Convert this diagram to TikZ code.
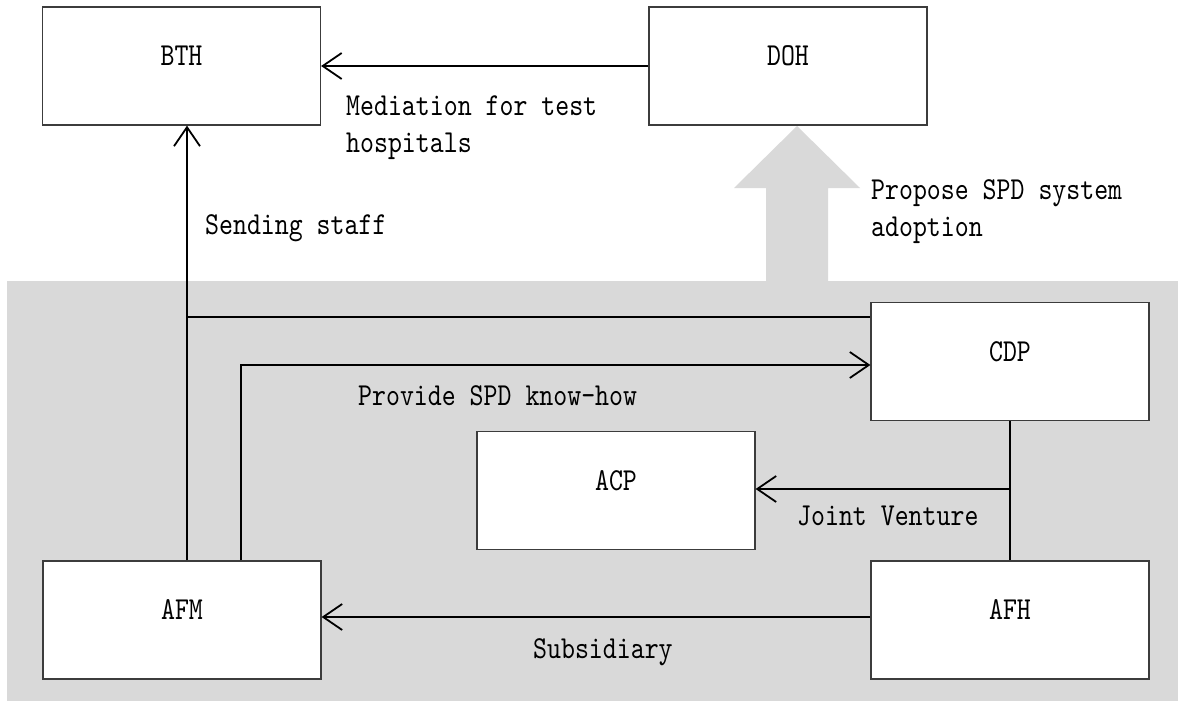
\documentclass[tikz,border=0pt]{standalone}
\usepackage{fontspec}
\newfontfamily\lblfont{lmmono10-regular}[Extension=.otf,FakeStretch=0.83]
\usetikzlibrary{arrows.meta}
\definecolor{panel}{RGB}{217,217,217}
\definecolor{edge}{RGB}{60,60,60}
\tikzset{
  txt/.style={font=\lblfont\fontsize{32pt}{37pt}\selectfont},
  box/.style={txt, draw=edge, line width=1.2pt, fill=white,
    minimum width=278pt, minimum height=118pt, inner sep=0pt,
    text height=20pt, text depth=21pt},
  lbl/.style={txt, anchor=base west, inner sep=0pt, align=left},
  link/.style={line width=1.8pt, draw=black},
  flow/.style={link, -{Straight Barb[length=19pt,width=26pt,line width=1.8pt]}},
}
\begin{document}
\begin{tikzpicture}[x=1pt,y=-1pt]
  \useasboundingbox (0,0) rectangle (1178,701);
  \fill[white] (0,0) rectangle (1178,701);

  % shaded company group with the broad arrow rising out of it
  \fill[panel] (7,281) rectangle (1178,701);
  \fill[panel] (766,282) -- (766,188) -- (734,188) -- (797,126)
               -- (860,188) -- (828,188) -- (828,282) -- cycle;

  % organisations
  \node[box] (bth) at (181.5,66)  {BTH};
  \node[box] (doh) at (788,66)    {DOH};
  \node[box] (cdp) at (1010,361.5) {CDP};
  \node[box] (acp) at (616,490.5) {ACP};
  \node[box] (afm) at (182,620)   {AFM};
  \node[box] (afh) at (1010,620)  {AFH};

  % helper points on the connector routes
  \coordinate (staffFoot) at ([xshift=5pt]afm.north);
  \coordinate (staffTee)  at (187,317);
  \coordinate (howFoot)   at ([xshift=59pt]afm.north);
  \coordinate (howBend)   at (241,365);
  \coordinate (jvTee)     at (1010,489);

  % connectors
  \draw[flow] (doh.west) -- (bth.east);
  \draw[flow] (staffFoot) -- (staffFoot |- bth.south);
  \draw[link] (staffTee) -- (staffTee -| cdp.west);
  \draw[flow] (howFoot) -- (howBend) -- (howBend -| cdp.west);
  \draw[link] (cdp.south) -- (afh.north);
  \draw[flow] (jvTee) -- (jvTee -| acp.east);
  \draw[flow] ([yshift=3pt]afh.west) -- ([yshift=3pt]afm.east);

  % connector labels (base anchor sits on the last line)
  \node[lbl] (medLbl)   at (346,152) {Mediation for test\\hospitals};
  \node[lbl] (propLbl)  at (871,236) {Propose SPD system\\adoption};
  \node[lbl] (sendLbl)  at (205,234) {Sending staff};
  \node[lbl] (howLbl)   at (358,405) {Provide SPD know-how};
  \node[lbl] (jvLbl)    at (797,525) {Joint Venture};
  \node[lbl] (subLbl)   at (533,658) {Subsidiary};
\end{tikzpicture}
\end{document}
